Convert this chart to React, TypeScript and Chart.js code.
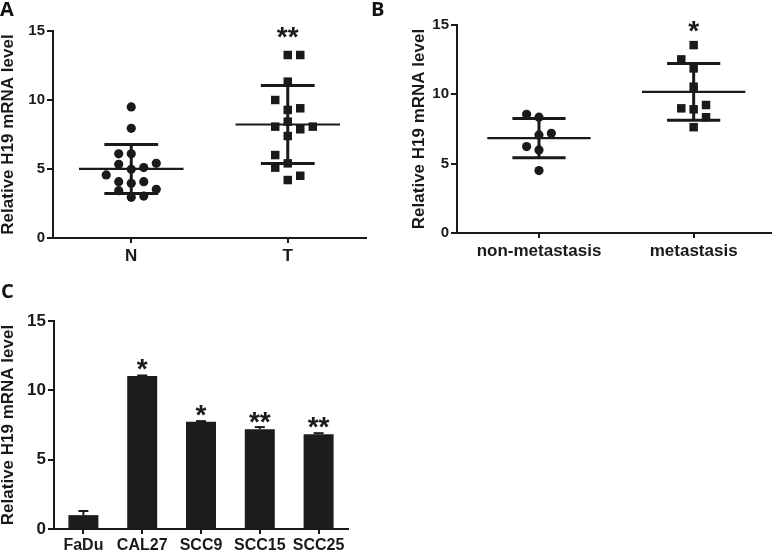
import React, { useEffect, useRef } from "react";
import { Chart, registerables } from "chart.js";
Chart.register(...registerables);

const FONT = "'Liberation Sans', Arial, sans-serif";
const INK = "#1a1a1a";
const Y_TITLE = "Relative H19 mRNA level";
const Y_TICKS = [0, 5, 10, 15];

// Panel A
const groupsA = ["N", "T"];
const nValues = [9.5, 7.95, 6.1, 6.1, 5.34, 4.98, 5.1, 5.41, 4.57, 4.08, 3.96, 4.08, 3.43, 3.53, 2.95, 3.04];
const nJitter = [0, 0, -1, 0, -1, 0, 1, 2, -2, -1, 0, 1, -1, 2, 0, 1];
const tValues = [13.26, 13.26, 11.33, 10.0, 9.28, 9.4, 8.07, 8.43, 7.88, 8.07, 7.39, 6.01, 5.1, 5.41, 4.2, 4.51];
const tJitter = [0, 1, 0, -1, 0, 1, -1, 0, 1, 2, 0, -1, -1, 0, 0, 1];
const sigA = ["", "**"];

// Panel B
const groupsB = ["non-metastasis", "metastasis"];
const nonMetValues = [8.56, 8.35, 7.07, 7.19, 6.23, 5.99, 4.5];
const nonMetJitter = [-1, 0, 0, 1, -1, 0, 0];
const metValues = [13.55, 12.52, 11.87, 10.55, 8.99, 8.92, 9.23, 8.35, 7.63];
const metJitter = [0, -1, 0, 0, -1, 0, 1, 1, 0];
const sigB = ["", "*"];

// Panel C
const cellLines = ["FaDu", "CAL27", "SCC9", "SCC15", "SCC25"];
const cellValues = [1.0, 11.03, 7.73, 7.2, 6.84];
const cellErrors = [0.3, 0.04, 0.05, 0.15, 0.07];
const sigC = ["", "*", "*", "**", "**"];

const JITTER_STEP = 0.08;

function drawStars(ctx: CanvasRenderingContext2D, text: string, x: number, cy: number, size: number) {
  if (!text) return;
  ctx.save();
  ctx.fillStyle = INK;
  ctx.font = `bold ${size}px ${FONT}`;
  ctx.textAlign = "center";
  ctx.textBaseline = "alphabetic";
  ctx.fillText(text, x, cy + size * 0.55);
  ctx.restore();
}

function line(ctx: CanvasRenderingContext2D, x1: number, y1: number, x2: number, y2: number) {
  ctx.beginPath();
  ctx.moveTo(x1, y1);
  ctx.lineTo(x2, y2);
  ctx.stroke();
}

function yScale(width: number, tickSize: number) {
  return {
    min: 0,
    max: 15,
    afterBuildTicks: (s: any) => {
      s.ticks = Y_TICKS.map((v) => ({ value: v }));
    },
    ticks: { color: INK, font: { family: FONT, size: tickSize, weight: "bold" }, padding: 2 },
    grid: { display: true, drawOnChartArea: false, drawTicks: true, tickLength: 6, color: INK, lineWidth: 2 },
    border: { display: true, color: INK, width: 2 },
    title: {
      display: true,
      text: Y_TITLE,
      color: INK,
      font: { family: FONT, size: 17, weight: "bold", lineHeight: 1 },
      padding: 0,
    },
    afterFit: (s: any) => {
      s.width = width;
    },
  };
}

type ScatterSpec = {
  cats: string[];
  values: number[][];
  jitters: number[][];
  styles: string[];
  radii: number[];
  sig: string[];
  xMin: number;
  xMax: number;
  yWidth: number;
  xHeight: number;
  padding: { left: number; right: number; top: number; bottom: number };
};

function scatterConfig(spec: ScatterSpec): any {
  const datasets = spec.values.map((vals, g) => ({
    data: vals.map((v, i) => ({ x: g + 1 + spec.jitters[g][i] * JITTER_STEP, y: v })),
    pointStyle: spec.styles[g],
    pointRadius: spec.radii[g],
    pointBackgroundColor: INK,
    pointBorderWidth: 0,
    showLine: false,
  }));
  const plugin = {
    id: "meanSd",
    beforeDatasetsDraw(chart: any) {
      const { ctx, scales } = chart;
      const x = scales.x;
      const y = scales.y;
      const unit = x.getPixelForValue(2) - x.getPixelForValue(1);
      spec.values.forEach((vals, g) => {
        const n = vals.length;
        const mean = vals.reduce((a, b) => a + b, 0) / n;
        const sd = Math.sqrt(vals.reduce((a, b) => a + (b - mean) * (b - mean), 0) / (n - 1));
        const cx = x.getPixelForValue(g + 1);
        ctx.save();
        ctx.strokeStyle = INK;
        ctx.lineWidth = 2.2;
        line(ctx, cx - 0.334 * unit, y.getPixelForValue(mean), cx + 0.334 * unit, y.getPixelForValue(mean));
        ctx.lineWidth = 3;
        const hi = y.getPixelForValue(mean + sd);
        const lo = y.getPixelForValue(mean - sd);
        line(ctx, cx - 0.172 * unit, hi, cx + 0.172 * unit, hi);
        line(ctx, cx - 0.172 * unit, lo, cx + 0.172 * unit, lo);
        line(ctx, cx, hi, cx, lo);
        ctx.restore();
      });
    },
    afterDatasetsDraw(chart: any) {
      const { ctx, scales } = chart;
      spec.sig.forEach((s, g) => {
        drawStars(ctx, s, scales.x.getPixelForValue(g + 1), scales.y.getPixelForValue(15), 28);
      });
    },
  };
  return {
    type: "scatter",
    data: { datasets },
    plugins: [plugin],
    options: {
      responsive: false,
      animation: false,
      events: [],
      layout: { padding: spec.padding },
      plugins: { legend: { display: false }, tooltip: { enabled: false } },
      scales: {
        x: {
          type: "linear",
          min: spec.xMin,
          max: spec.xMax,
          afterBuildTicks: (s: any) => {
            s.ticks = spec.cats.map((_, i) => ({ value: i + 1 }));
          },
          ticks: {
            color: INK,
            font: { family: FONT, size: 17, weight: "bold" },
            padding: 3,
            autoSkip: false,
            maxRotation: 0,
            callback: (v: number) => spec.cats[Math.round(v) - 1] ?? "",
          },
          grid: { display: true, drawOnChartArea: false, drawTicks: true, tickLength: 5, color: INK, lineWidth: 2 },
          border: { display: true, color: INK, width: 2 },
          afterFit: (s: any) => {
            s.height = spec.xHeight;
          },
        },
        y: yScale(spec.yWidth, 15),
      },
    },
  };
}

function barConfig(): any {
  const plugin = {
    id: "errStars",
    afterDatasetsDraw(chart: any) {
      const { ctx, scales } = chart;
      const y = scales.y;
      const meta = chart.getDatasetMeta(0);
      meta.data.forEach((bar: any, i: number) => {
        const top = y.getPixelForValue(cellValues[i]);
        const ey = y.getPixelForValue(cellValues[i] + cellErrors[i]);
        ctx.save();
        ctx.strokeStyle = INK;
        ctx.lineWidth = 2;
        line(ctx, bar.x, top, bar.x, ey);
        line(ctx, bar.x - 5, ey, bar.x + 5, ey);
        ctx.restore();
        drawStars(ctx, sigC[i], bar.x, top - 13.5, 28);
      });
    },
  };
  return {
    type: "bar",
    data: {
      labels: cellLines,
      datasets: [
        {
          data: cellValues,
          backgroundColor: "#1c1c1c",
          borderColor: "#000",
          borderWidth: 0,
          barPercentage: 0.51,
          categoryPercentage: 1,
        },
      ],
    },
    plugins: [plugin],
    options: {
      responsive: false,
      animation: false,
      events: [],
      layout: { padding: { left: 0, right: 12, top: 51, bottom: 0 } },
      plugins: { legend: { display: false }, tooltip: { enabled: false } },
      scales: {
        x: {
          type: "category",
          offset: true,
          ticks: { color: INK, font: { family: FONT, size: 16, weight: "bold" }, padding: 2, autoSkip: false, maxRotation: 0 },
          grid: { display: true, drawOnChartArea: false, drawTicks: true, tickLength: 5, offset: false, color: INK, lineWidth: 2 },
          border: { display: true, color: INK, width: 2 },
          afterFit: (s: any) => {
            s.height = 23;
          },
        },
        y: yScale(54, 17),
      },
    },
  };
}

function ChartCanvas({ config, left, top, width, height }: any) {
  const ref = useRef<HTMLCanvasElement>(null);
  useEffect(() => {
    const chart = new Chart(ref.current as HTMLCanvasElement, config());
    return () => chart.destroy();
  }, []);
  return (
    <canvas
      ref={ref}
      width={width}
      height={height}
      style={{ position: "absolute", left, top, width, height }}
    />
  );
}

const letterStyle: React.CSSProperties = {
  position: "absolute",
  fontFamily: "'Open Sans', sans-serif",
  fontWeight: 700,
  fontSize: 20,
  lineHeight: 1,
  color: "#111",
};

export default function App() {
  return (
    <div style={{ position: "absolute", left: 0, top: 0, width: 777, height: 552, background: "#fff", overflow: "hidden" }}>
      <ChartCanvas
        left={0}
        top={0}
        width={380}
        height={268}
        config={() =>
          scatterConfig({
            cats: groupsA,
            values: [nValues, tValues],
            jitters: [nJitter, tJitter],
            styles: ["circle", "rect"],
            radii: [4.6, 6],
            sig: sigA,
            xMin: 0.5,
            xMax: 2.5,
            yWidth: 53,
            xHeight: 30,
            padding: { left: 0, right: 14, top: 31, bottom: 0 },
          })
        }
      />
      <ChartCanvas
        left={411}
        top={0}
        width={366}
        height={268}
        config={() =>
          scatterConfig({
            cats: groupsB,
            values: [nonMetValues, metValues],
            jitters: [nonMetJitter, metJitter],
            styles: ["circle", "rect"],
            radii: [4.6, 6],
            sig: sigB,
            xMin: 0.47,
            xMax: 2.5,
            yWidth: 46,
            xHeight: 35,
            padding: { left: 0, right: 1, top: 25, bottom: 0 },
          })
        }
      />
      <ChartCanvas left={0} top={270} width={360} height={282} config={barConfig} />
      <div style={{ ...letterStyle, left: 0, top: -1 }}>A</div>
      <div style={{ ...letterStyle, left: 371, top: -1 }}>B</div>
      <div style={{ ...letterStyle, left: 1, top: 281 }}>C</div>
    </div>
  );
}
